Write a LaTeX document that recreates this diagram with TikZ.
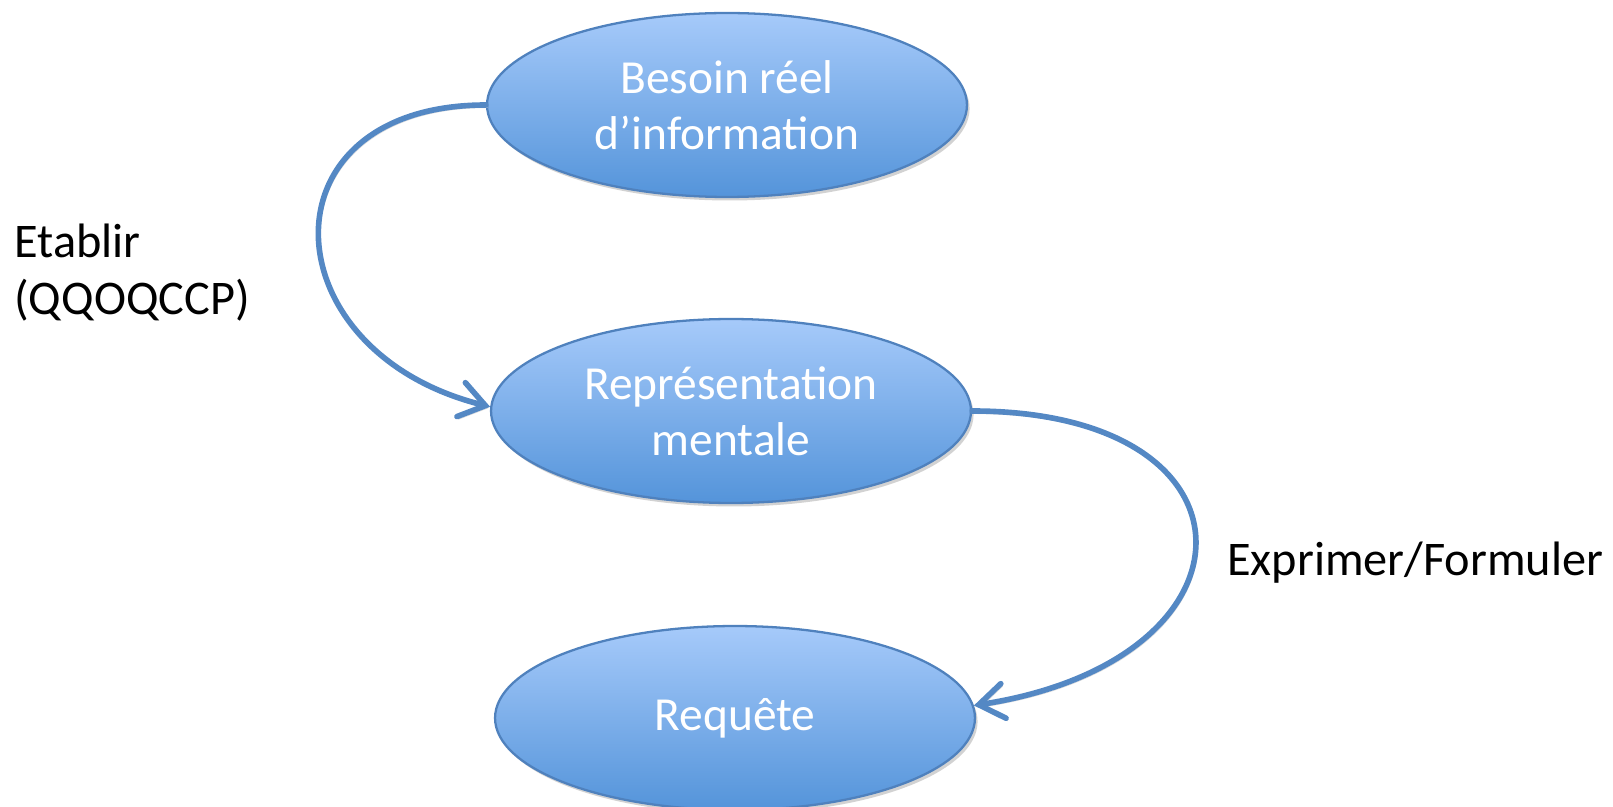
\documentclass[tikz,border=0pt]{standalone}
\usepackage{fontspec}
\setmainfont{Carlito}
\usetikzlibrary{calc,positioning,shapes.geometric,shadows,arrows.meta}

\definecolor{hautbleu}{RGB}{166,202,250}
\definecolor{basbleu}{RGB}{84,148,218}
\definecolor{bordbleu}{RGB}{79,129,189}
\definecolor{traitbleu}{RGB}{84,136,196}

\tikzset{
  etat/.style={ellipse, draw=bordbleu, line width=1.3pt,
    top color=hautbleu, bottom color=basbleu,
    minimum width=9.6cm, minimum height=3.68cm, inner sep=0pt,
    align=center, text=white, font=\fontsize{27}{32}\selectfont,
    drop shadow={shadow xshift=1.5pt, shadow yshift=-2pt, fill=black!35}},
  libelle/.style={align=left, font=\fontsize{27.5}{32.5}\selectfont, inner sep=0pt},
  fleche/.style={draw=traitbleu, line width=3.2pt, line cap=round,
    -{Straight Barb[length=5mm,width=7mm,line cap=round]},
    preaction={draw=black!15, transform canvas={xshift=1pt,yshift=-1.5pt}}}
}

\begin{document}
\begin{tikzpicture}[x=0.02cm,y=-0.02cm]
\useasboundingbox (0,0) rectangle (1613,807);

% les trois etats
\node[etat] (besoin) at (727,105) {Besoin réel\\d’information};
\node[etat] (repr) at (731,411) {Représentation\\mentale};
\node[etat] (requete) at (735,718) {Requête};

% les libelles
\node[libelle, anchor=west] (etablir) at (14,273) {Etablir\\(QQOQCCP)};
\node[libelle, anchor=west] (exprimer) at (1227,563) {Exprimer/Formuler};

% les fleches
\draw[fleche] (besoin.west) .. controls +(-228,0) and +(-222,-55) .. (repr.179);
\draw[fleche] (repr.east) .. controls +(298,0) and +(294,-45) .. (requete.3);

\end{tikzpicture}
\end{document}
